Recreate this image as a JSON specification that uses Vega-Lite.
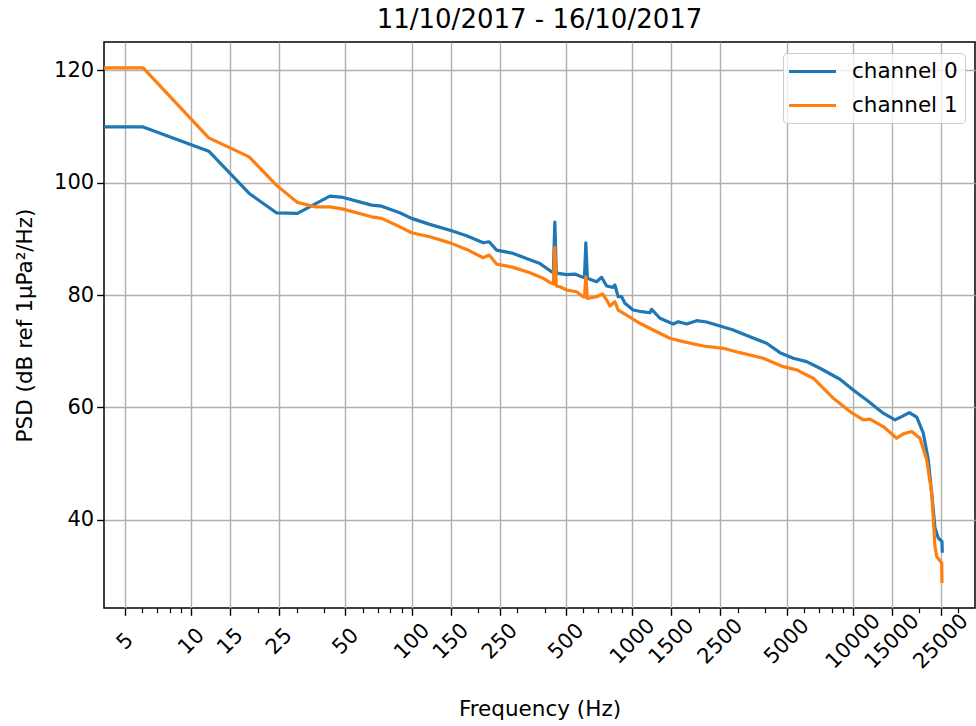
{
  "$schema": "https://vega.github.io/schema/vega-lite/v6.json",
  "width": 871,
  "height": 566,
  "autosize": {"type": "none"},
  "padding": {"left": 104, "top": 42, "right": 1, "bottom": 118},
  "background": "white",
  "title": {"text": "11/10/2017 - 16/10/2017", "fontSize": 26, "font": "DejaVu Sans", "fontWeight": "normal", "color": "black", "anchor": "middle", "frame": "group", "baseline": "alphabetic", "offset": -12.3},
  "datasets": {
    "ch0": [
      {"channel": "channel 0", "f": 4.02, "psd": 109.92},
      {"channel": "channel 0", "f": 6.05, "psd": 109.92},
      {"channel": "channel 0", "f": 12.0, "psd": 105.6},
      {"channel": "channel 0", "f": 18.3, "psd": 98.08},
      {"channel": "channel 0", "f": 24.3, "psd": 94.63},
      {"channel": "channel 0", "f": 30.3, "psd": 94.52},
      {"channel": "channel 0", "f": 36.3, "psd": 96.18},
      {"channel": "channel 0", "f": 42.5, "psd": 97.6},
      {"channel": "channel 0", "f": 48.8, "psd": 97.37},
      {"channel": "channel 0", "f": 65.7, "psd": 96.0},
      {"channel": "channel 0", "f": 72.9, "psd": 95.82},
      {"channel": "channel 0", "f": 88.2, "psd": 94.63},
      {"channel": "channel 0", "f": 99.7, "psd": 93.64},
      {"channel": "channel 0", "f": 120.6, "psd": 92.57},
      {"channel": "channel 0", "f": 151.4, "psd": 91.43},
      {"channel": "channel 0", "f": 177.1, "psd": 90.54},
      {"channel": "channel 0", "f": 210.6, "psd": 89.3},
      {"channel": "channel 0", "f": 224.1, "psd": 89.48},
      {"channel": "channel 0", "f": 242.2, "psd": 88.0},
      {"channel": "channel 0", "f": 288, "psd": 87.41},
      {"channel": "channel 0", "f": 331, "psd": 86.52},
      {"channel": "channel 0", "f": 381, "psd": 85.59},
      {"channel": "channel 0", "f": 430, "psd": 84.14},
      {"channel": "channel 0", "f": 438, "psd": 84.0},
      {"channel": "channel 0", "f": 445, "psd": 93.0},
      {"channel": "channel 0", "f": 452, "psd": 83.9},
      {"channel": "channel 0", "f": 461, "psd": 83.86},
      {"channel": "channel 0", "f": 503, "psd": 83.64},
      {"channel": "channel 0", "f": 548, "psd": 83.73},
      {"channel": "channel 0", "f": 588, "psd": 83.25},
      {"channel": "channel 0", "f": 606, "psd": 83.1},
      {"channel": "channel 0", "f": 615, "psd": 89.3},
      {"channel": "channel 0", "f": 625, "psd": 83.0},
      {"channel": "channel 0", "f": 688, "psd": 82.36},
      {"channel": "channel 0", "f": 725, "psd": 83.15},
      {"channel": "channel 0", "f": 764, "psd": 81.6},
      {"channel": "channel 0", "f": 818, "psd": 81.37},
      {"channel": "channel 0", "f": 833, "psd": 81.78},
      {"channel": "channel 0", "f": 862, "psd": 79.7},
      {"channel": "channel 0", "f": 893, "psd": 79.7},
      {"channel": "channel 0", "f": 925, "psd": 78.52},
      {"channel": "channel 0", "f": 1008, "psd": 77.33},
      {"channel": "channel 0", "f": 1101, "psd": 77.03},
      {"channel": "channel 0", "f": 1201, "psd": 76.85},
      {"channel": "channel 0", "f": 1222, "psd": 77.46},
      {"channel": "channel 0", "f": 1333, "psd": 75.86},
      {"channel": "channel 0", "f": 1531, "psd": 74.84},
      {"channel": "channel 0", "f": 1614, "psd": 75.25},
      {"channel": "channel 0", "f": 1762, "psd": 74.84},
      {"channel": "channel 0", "f": 1956, "psd": 75.43},
      {"channel": "channel 0", "f": 2170, "psd": 75.2},
      {"channel": "channel 0", "f": 2494, "psd": 74.49},
      {"channel": "channel 0", "f": 2865, "psd": 73.78},
      {"channel": "channel 0", "f": 3412, "psd": 72.59},
      {"channel": "channel 0", "f": 4060, "psd": 71.41},
      {"channel": "channel 0", "f": 4667, "psd": 69.74},
      {"channel": "channel 0", "f": 5362, "psd": 68.75},
      {"channel": "channel 0", "f": 6166, "psd": 68.14},
      {"channel": "channel 0", "f": 7085, "psd": 66.97},
      {"channel": "channel 0", "f": 8730, "psd": 65.01},
      {"channel": "channel 0", "f": 10030, "psd": 63.11},
      {"channel": "channel 0", "f": 11535, "psd": 61.33},
      {"channel": "channel 0", "f": 13720, "psd": 58.97},
      {"channel": "channel 0", "f": 15507, "psd": 57.78},
      {"channel": "channel 0", "f": 16628, "psd": 58.36},
      {"channel": "channel 0", "f": 18005, "psd": 59.08},
      {"channel": "channel 0", "f": 19454, "psd": 58.26},
      {"channel": "channel 0", "f": 20838, "psd": 55.41},
      {"channel": "channel 0", "f": 21955, "psd": 50.67},
      {"channel": "channel 0", "f": 22746, "psd": 44.75},
      {"channel": "channel 0", "f": 23544, "psd": 38.53},
      {"channel": "channel 0", "f": 24368, "psd": 36.75},
      {"channel": "channel 0", "f": 25330, "psd": 36.14},
      {"channel": "channel 0", "f": 25400, "psd": 34.13}
    ],
    "ch1": [
      {"channel": "channel 1", "f": 4.02, "psd": 120.41},
      {"channel": "channel 1", "f": 6.05, "psd": 120.41},
      {"channel": "channel 1", "f": 12.0, "psd": 107.96},
      {"channel": "channel 1", "f": 18.3, "psd": 104.59},
      {"channel": "channel 1", "f": 24.3, "psd": 99.56},
      {"channel": "channel 1", "f": 30.3, "psd": 96.48},
      {"channel": "channel 1", "f": 36.3, "psd": 95.7},
      {"channel": "channel 1", "f": 42.5, "psd": 95.7},
      {"channel": "channel 1", "f": 48.8, "psd": 95.29},
      {"channel": "channel 1", "f": 65.7, "psd": 93.92},
      {"channel": "channel 1", "f": 72.9, "psd": 93.64},
      {"channel": "channel 1", "f": 88.2, "psd": 92.14},
      {"channel": "channel 1", "f": 99.7, "psd": 91.08},
      {"channel": "channel 1", "f": 120.6, "psd": 90.36},
      {"channel": "channel 1", "f": 151.4, "psd": 89.19},
      {"channel": "channel 1", "f": 177.1, "psd": 88.12},
      {"channel": "channel 1", "f": 210.6, "psd": 86.63},
      {"channel": "channel 1", "f": 224.1, "psd": 87.11},
      {"channel": "channel 1", "f": 242.2, "psd": 85.51},
      {"channel": "channel 1", "f": 288, "psd": 84.92},
      {"channel": "channel 1", "f": 343, "psd": 83.96},
      {"channel": "channel 1", "f": 394, "psd": 82.97},
      {"channel": "channel 1", "f": 430, "psd": 82.08},
      {"channel": "channel 1", "f": 438, "psd": 81.96},
      {"channel": "channel 1", "f": 445, "psd": 88.48},
      {"channel": "channel 1", "f": 452, "psd": 81.6},
      {"channel": "channel 1", "f": 469, "psd": 81.47},
      {"channel": "channel 1", "f": 503, "psd": 80.89},
      {"channel": "channel 1", "f": 558, "psd": 80.59},
      {"channel": "channel 1", "f": 598, "psd": 79.7},
      {"channel": "channel 1", "f": 606, "psd": 79.64},
      {"channel": "channel 1", "f": 615, "psd": 83.25},
      {"channel": "channel 1", "f": 625, "psd": 79.41},
      {"channel": "channel 1", "f": 688, "psd": 79.7},
      {"channel": "channel 1", "f": 733, "psd": 80.18},
      {"channel": "channel 1", "f": 764, "psd": 79.11},
      {"channel": "channel 1", "f": 791, "psd": 78.04},
      {"channel": "channel 1", "f": 833, "psd": 78.81},
      {"channel": "channel 1", "f": 862, "psd": 77.33},
      {"channel": "channel 1", "f": 941, "psd": 76.44},
      {"channel": "channel 1", "f": 1081, "psd": 74.97},
      {"channel": "channel 1", "f": 1243, "psd": 73.78},
      {"channel": "channel 1", "f": 1479, "psd": 72.3},
      {"channel": "channel 1", "f": 1700, "psd": 71.7},
      {"channel": "channel 1", "f": 2095, "psd": 70.93},
      {"channel": "channel 1", "f": 2582, "psd": 70.52},
      {"channel": "channel 1", "f": 3073, "psd": 69.74},
      {"channel": "channel 1", "f": 3919, "psd": 68.75},
      {"channel": "channel 1", "f": 4830, "psd": 67.25},
      {"channel": "channel 1", "f": 5555, "psd": 66.67},
      {"channel": "channel 1", "f": 6607, "psd": 65.19},
      {"channel": "channel 1", "f": 8141, "psd": 61.64},
      {"channel": "channel 1", "f": 9692, "psd": 59.25},
      {"channel": "channel 1", "f": 11135, "psd": 57.78},
      {"channel": "channel 1", "f": 11940, "psd": 57.9},
      {"channel": "channel 1", "f": 13720, "psd": 56.59},
      {"channel": "channel 1", "f": 15784, "psd": 54.52},
      {"channel": "channel 1", "f": 16913, "psd": 55.29},
      {"channel": "channel 1", "f": 18461, "psd": 55.7},
      {"channel": "channel 1", "f": 20134, "psd": 54.52},
      {"channel": "channel 1", "f": 21590, "psd": 50.67},
      {"channel": "channel 1", "f": 22746, "psd": 44.75},
      {"channel": "channel 1", "f": 23544, "psd": 35.25},
      {"channel": "channel 1", "f": 23970, "psd": 33.48},
      {"channel": "channel 1", "f": 25250, "psd": 32.3},
      {"channel": "channel 1", "f": 25330, "psd": 28.75}
    ]
  },
  "encoding": {
    "y": {
      "field": "psd", "type": "quantitative",
      "scale": {"domain": [24.3, 125.03], "nice": false, "zero": false},
      "axis": {"values": [40, 60, 80, 100, 120], "title": "PSD (dB ref 1μPa²/Hz)", "titleX": -73, "titleY": 283, "titleBaseline": "alphabetic", "titleAngle": -90, "titleAlign": "center", "grid": true, "labelPadding": 3}
    },
    "color": {
      "field": "channel", "type": "nominal",
      "scale": {"domain": ["channel 0", "channel 1"], "range": ["#1f77b4", "#ff7f0e"]},
      "legend": {"title": null, "orient": "none", "legendX": 679, "legendY": 11}
    }
  },
  "layer": [
    {
      "data": {"name": "ch0"},
      "mark": {"type": "line", "strokeWidth": 3.2, "strokeJoin": "round", "clip": true},
      "encoding": {
        "x": {
          "field": "f", "type": "quantitative",
          "scale": {"type": "log", "domain": [4.02, 35750], "nice": false},
          "axis": {"orient": "bottom", "values": [5, 10, 15, 25, 50, 100, 150, 250, 500, 1000, 1500, 2500, 5000, 10000, 15000, 25000], "format": "d", "title": "Frequency (Hz)", "grid": true, "labelAngle": -45, "labelAlign": "center", "labelBaseline": "middle", "labelPadding": 26, "labelOverlap": false, "labelFlush": false, "titleY": 107, "titleBaseline": "alphabetic"}
        }
      }
    },
    {
      "data": {"name": "ch1"},
      "mark": {"type": "line", "strokeWidth": 3.2, "strokeJoin": "round", "clip": true},
      "encoding": {
        "x": {
          "field": "f", "type": "quantitative",
          "scale": {"type": "log", "domain": [4.02, 35750], "nice": false},
          "axis": {"orient": "bottom", "values": [6, 7, 8, 9, 20, 30, 40, 60, 70, 80, 90, 200, 300, 400, 600, 700, 800, 900, 2000, 3000, 4000, 6000, 7000, 8000, 9000, 20000, 30000], "labels": false, "title": null, "grid": false, "tickSize": 4.7, "tickWidth": 1.2}
        }
      }
    }
  ],
  "resolve": {"axis": {"x": "independent"}},
  "config": {
    "view": {"stroke": "black", "strokeWidth": 1.5},
    "axis": {
      "labelFont": "DejaVu Sans", "labelFontSize": 21, "labelColor": "black",
      "titleFont": "DejaVu Sans", "titleFontSize": 21.5, "titleFontWeight": "normal", "titleColor": "black",
      "tickColor": "black", "tickSize": 7.3, "tickWidth": 1.4,
      "gridColor": "#b0b0b0", "gridWidth": 1.4, "gridOpacity": 1,
      "domain": false
    },
    "legend": {
      "labelFont": "DejaVu Sans", "labelFontSize": 21.5, "labelColor": "black",
      "fillColor": "rgba(255,255,255,0.8)", "strokeColor": "#cccccc", "cornerRadius": 4, "padding": 7,
      "symbolType": "M-2.35,0H2.35", "symbolStrokeWidth": 3, "symbolSize": 400, "symbolOffset": 11, "labelOffset": 28, "rowPadding": 12
    }
  }
}
